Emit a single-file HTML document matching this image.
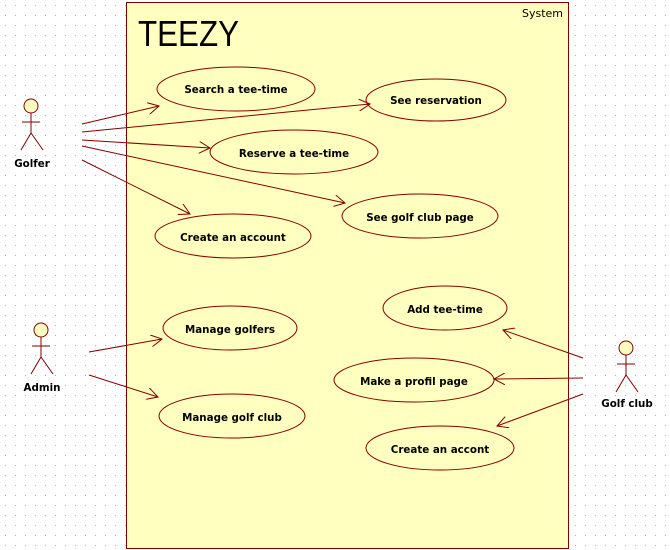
<!DOCTYPE html>
<html><head><style>
html,body{margin:0;padding:0;width:670px;height:550px;overflow:hidden;background:#fff;}
svg{display:block}
text{font-family:"DejaVu Sans","Liberation Sans",sans-serif;font-size:10.3px;font-weight:bold;fill:#000;}
</style></head><body>
<svg width="670" height="550" xmlns="http://www.w3.org/2000/svg">
<defs>
<pattern id="g" width="10" height="10" patternUnits="userSpaceOnUse"><rect x="5" y="5" width="1" height="1" fill="#b0b0b0"/></pattern>
<marker id="a" markerWidth="12" markerHeight="12" refX="11" refY="6" orient="auto" markerUnits="userSpaceOnUse"><path d="M0,0 L11,6 L0,12" fill="none" stroke="#800000" stroke-width="1"/></marker>
</defs>
<rect width="670" height="550" fill="url(#g)"/>
<rect x="126.5" y="2.5" width="442" height="546" fill="#ffffc0" stroke="#800000"/>
<text x="563" y="17" text-anchor="end" style="font-weight:normal;font-size:11px">System</text>
<text x="138" y="46" textLength="101" lengthAdjust="spacingAndGlyphs" style="font-weight:normal;font-size:36px;font-family:'Liberation Sans',sans-serif">TEEZY</text>
<g fill="#ffffc0" stroke="#800000" stroke-width="1">
<ellipse cx="236" cy="89" rx="79" ry="22"/>
<ellipse cx="436" cy="100" rx="70" ry="21"/>
<ellipse cx="294" cy="152" rx="84" ry="22"/>
<ellipse cx="420" cy="216" rx="78" ry="22"/>
<ellipse cx="233" cy="236" rx="78" ry="22"/>
<ellipse cx="230" cy="328" rx="67" ry="22"/>
<ellipse cx="232" cy="416" rx="73" ry="22"/>
<ellipse cx="445" cy="308" rx="62" ry="22"/>
<ellipse cx="414" cy="380" rx="80" ry="22"/>
<ellipse cx="440" cy="448" rx="74" ry="22"/>
</g>
<g text-anchor="middle">
<text x="236" y="93">Search a tee-time</text>
<text x="436" y="104">See reservation</text>
<text x="294" y="157">Reserve a tee-time</text>
<text x="420" y="221">See golf club page</text>
<text x="233" y="241">Create an account</text>
<text x="230" y="333">Manage golfers</text>
<text x="232" y="421">Manage golf club</text>
<text x="445" y="313">Add tee-time</text>
<text x="414" y="385">Make a profil page</text>
<text x="440" y="453">Create an accont</text>
</g>
<g stroke="#800000" stroke-width="1" fill="none" marker-end="url(#a)">
<line x1="82" y1="124" x2="159" y2="106"/>
<line x1="82" y1="132" x2="370" y2="104"/>
<line x1="82" y1="140" x2="210" y2="148"/>
<line x1="82" y1="146" x2="345" y2="203"/>
<line x1="82" y1="160" x2="190" y2="214"/>
<line x1="89" y1="352" x2="162" y2="339"/>
<line x1="89" y1="375" x2="158" y2="397"/>
<line x1="583" y1="358" x2="503" y2="330"/>
<line x1="583" y1="378" x2="494" y2="379"/>
<line x1="583" y1="394" x2="497" y2="426"/>
</g>
<g stroke="#800000" stroke-width="1" fill="#ffffc0">
<circle cx="31" cy="106" r="7"/>
<path d="M31 113V133M22 122H40M31 133L21 150M31 133L43 150" fill="none"/>
<circle cx="41" cy="330" r="7"/>
<path d="M41 337V357M32 346H50M41 357L31 374M41 357L53 374" fill="none"/>
<circle cx="626" cy="348" r="7"/>
<path d="M626 355V375M617 364H635M626 375L616 392M626 375L638 392" fill="none"/>
</g>
<text x="32" y="167" text-anchor="middle">Golfer</text>
<text x="42" y="391" text-anchor="middle">Admin</text>
<text x="627" y="407" text-anchor="middle">Golf club</text>
</svg>
</body></html>
